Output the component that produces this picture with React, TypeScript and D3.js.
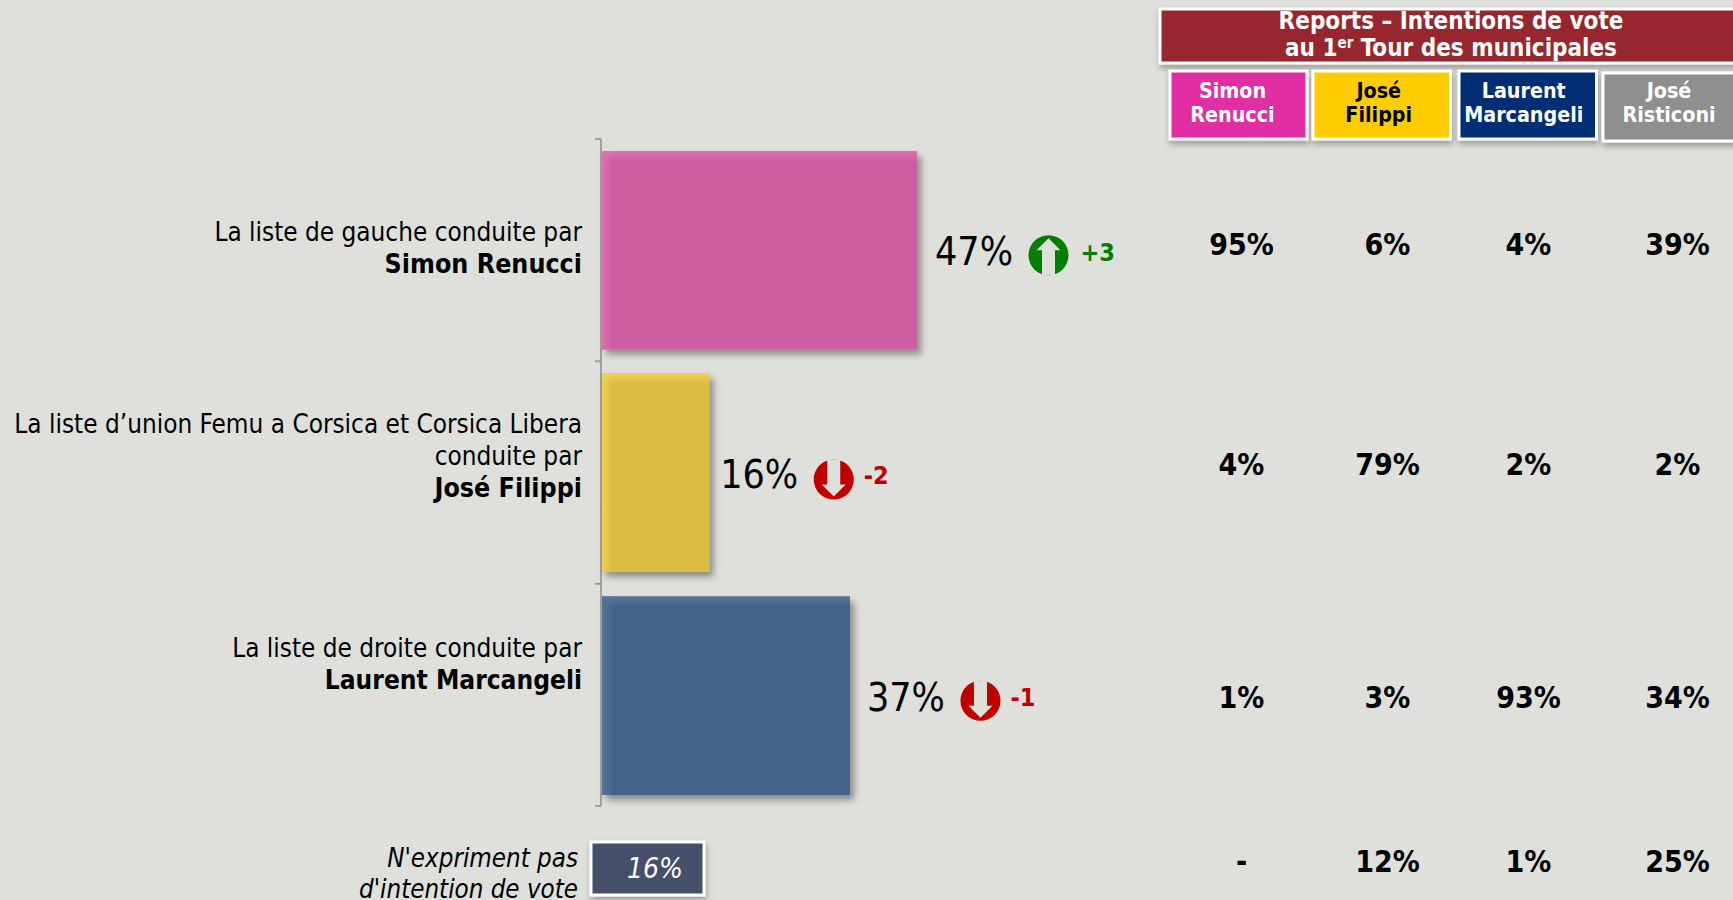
import React from "react";
import * as d3 from "d3";

const FONT = "'DejaVu Sans Condensed', 'DejaVu Sans', sans-serif";
const candidates = ["Simon Renucci", "José Filippi", "Laurent Marcangeli"];
const labelLines = [
  ["La liste de gauche conduite par"],
  ["La liste d’union Femu a Corsica et Corsica Libera", "conduite par"],
  ["La liste de droite conduite par"],
];
const labelBold = ["Simon Renucci", "José Filippi", "Laurent Marcangeli"];
const values = [47, 16, 37];
const deltas = [3, -2, -1];
const barColors = ["#CB5EA1", "#DCBC42", "#456289"];
const barEdges = ["#E06FB2", "#F2D055", "#557299"];
const reportHeaders = [
  ["Simon", "Renucci"],
  ["José", "Filippi"],
  ["Laurent", "Marcangeli"],
  ["José", "Risticoni"],
];
const reportFills = ["#E22FA3", "#FFCC00", "#002F74", "#8F8F8F"];
const reportText = ["#FFFFFF", "#000000", "#FFFFFF", "#FFFFFF"];
const reportS = ["95%", "4%", "1%", "-"];
const reportJ = ["6%", "79%", "3%", "12%"];
const reportL = ["4%", "2%", "93%", "1%"];
const reportR = ["39%", "2%", "34%", "25%"];
const noVoice = 16;

const x = d3.scaleLinear().domain([0, 47]).range([602, 917]);
const y = d3.scaleBand<string>().domain(candidates).range([139, 806]).paddingInner(0.107).paddingOuter(0.054);

const headX = [1170, 1313, 1459, 1603];
const headW = [137, 137.5, 137.5, 140];
const headY = [71, 71, 71, 73];
const headShift = [-6, -3, -4, -4];
const colX = [1241.5, 1387.5, 1528.5, 1677.5];
const rowY = [255, 475, 708, 872];
const labelBase = [240.5, 432.5, 657];
const boldSize = [26.6, 26.6, 26.1];
const barShift = [0, 0, 1];
const valueGap = [18, 11, 17];
const deltaGap = [32, 30, 30];
const deltaDy = [11, 11, 10];
const iconDy = [5, 7, 5];

function arrowPath(up: boolean, cx: number, cy: number, r: number) {
  const p = d3.path();
  const s = up ? 1 : -1;
  p.moveTo(cx, cy - s * (r - 3));
  p.lineTo(cx + 12, cy - s * (r - 15));
  p.lineTo(cx + 6.5, cy - s * (r - 15));
  p.lineTo(cx + 6.5, cy + s * r);
  p.lineTo(cx - 6.5, cy + s * r);
  p.lineTo(cx - 6.5, cy - s * (r - 15));
  p.lineTo(cx - 12, cy - s * (r - 15));
  p.closePath();
  return p.toString();
}

export default function App() {
  const axisTicks = [139, 139 + 222.33, 139 + 444.67, 806];
  return (
    <svg width={1733} height={900} style={{ position: "absolute", left: 0, top: 0, display: "block" }} fontFamily={FONT}>
      <defs>
        <filter id="sh" x="-10%" y="-10%" width="125%" height="125%">
          <feDropShadow dx="4" dy="5" stdDeviation="3.5" floodColor="#000" floodOpacity="0.38" />
        </filter>
        <filter id="shs" x="-10%" y="-10%" width="125%" height="130%">
          <feDropShadow dx="1" dy="4" stdDeviation="3" floodColor="#000" floodOpacity="0.3" />
        </filter>
        {barEdges.map((c, i) => (
          <React.Fragment key={i}>
            <linearGradient id={`gt${i}`} x1="0" y1="0" x2="0" y2="1">
              <stop offset="0" stopColor={c} />
              <stop offset="1" stopColor={c} stopOpacity="0" />
            </linearGradient>
            <linearGradient id={`gl${i}`} x1="0" y1="0" x2="1" y2="0">
              <stop offset="0" stopColor={c} />
              <stop offset="1" stopColor={c} stopOpacity="0" />
            </linearGradient>
          </React.Fragment>
        ))}
      </defs>
      <rect width={1733} height={900} fill="#DFE0DB" />

      <path
        d={axisTicks.map((t) => `M595,${t}H601`).join("") + "M601,139V806"}
        fill="none"
        stroke="#A0A0A0"
        strokeWidth={2}
      />

      {candidates.map((c, i) => {
        const by = y(c)! + barShift[i];
        const bh = y.bandwidth();
        const bx = x(0);
        const bw = x(values[i]) - x(0);
        const cy = by + bh / 2;
        const vx = x(values[i]) + valueGap[i];
        const up = deltas[i] > 0;
        const col = up ? "#008000" : "#C00000";
        const iconX = vx + 113.5;
        const iconY = cy + iconDy[i];
        const lines = labelLines[i];
        const lh = 32;
        return (
          <g key={c}>
            <rect x={bx} y={by} width={bw} height={bh} fill={barColors[i]} filter="url(#sh)" />
            <rect x={bx} y={by} width={bw} height={11} fill={`url(#gt${i})`} />
            <rect x={bx} y={by} width={11} height={bh} fill={`url(#gl${i})`} />
            <text x={vx} y={cy + 15} fontSize={39} fill="#000">{values[i]}%</text>
            <circle cx={iconX} cy={iconY} r={20} fill={col} />
            <path d={arrowPath(up, iconX, iconY, 20)} fill="#DFE0DB" />
            <text x={iconX + deltaGap[i]} y={cy + deltaDy[i]} fontSize={25} fontWeight="bold" fill={col}>
              {up ? "+" : "-"}{Math.abs(deltas[i])}
            </text>
            <g textAnchor="end" fill="#000">
              {lines.map((l, k) => (
                <text key={k} x={582} y={labelBase[i] + k * lh} fontSize={25.9}>{l}</text>
              ))}
              <text x={582} y={labelBase[i] + lines.length * lh} fontSize={boldSize[i]} fontWeight="bold">{labelBold[i]}</text>
            </g>
          </g>
        );
      })}

      <g textAnchor="end" fontSize={25.7} fontStyle="italic" fill="#000">
        <text x={578} y={867}>N'expriment pas</text>
        <text x={578} y={898}>d'intention de vote</text>
      </g>
      <rect x={591} y={842} width={113} height={53} fill="#45506B" stroke="#fff" strokeWidth={3} filter="url(#shs)" />
      <text x={655} y={878} textAnchor="middle" fontSize={28} fontStyle="italic" fill="#fff">{noVoice}%</text>

      <rect x={1160} y={9} width={580} height={54} fill="#98272D" stroke="#fff" strokeWidth={3} filter="url(#shs)" />
      <g fontSize={24} fontWeight="bold" fill="#fff" textAnchor="middle">
        <text x={1451} y={29}>Reports – Intentions de vote</text>
        <text x={1451} y={56}>
          au 1<tspan fontSize={15} dy={-8}>er</tspan><tspan dy={8}> Tour des municipales</tspan>
        </text>
      </g>

      {reportHeaders.map((h, i) => (
        <g key={i}>
          <rect x={headX[i]} y={headY[i]} width={headW[i]} height={68} fill={reportFills[i]} stroke="#fff" strokeWidth={3} filter="url(#shs)" />
          <g fontSize={21.3} fontWeight="bold" fill={reportText[i]} textAnchor="middle">
            <text x={headX[i] + headW[i] / 2 + headShift[i]} y={98}>{h[0]}</text>
            <text x={headX[i] + headW[i] / 2 + headShift[i]} y={122}>{h[1]}</text>
          </g>
        </g>
      ))}

      {[reportS, reportJ, reportL, reportR].map((col, i) => (
        <g key={i} fontSize={30} fontWeight="bold" fill="#000" textAnchor="middle">
          {col.map((v, r) => (
            <text key={r} x={colX[i]} y={rowY[r]}>{v}</text>
          ))}
        </g>
      ))}
    </svg>
  );
}
